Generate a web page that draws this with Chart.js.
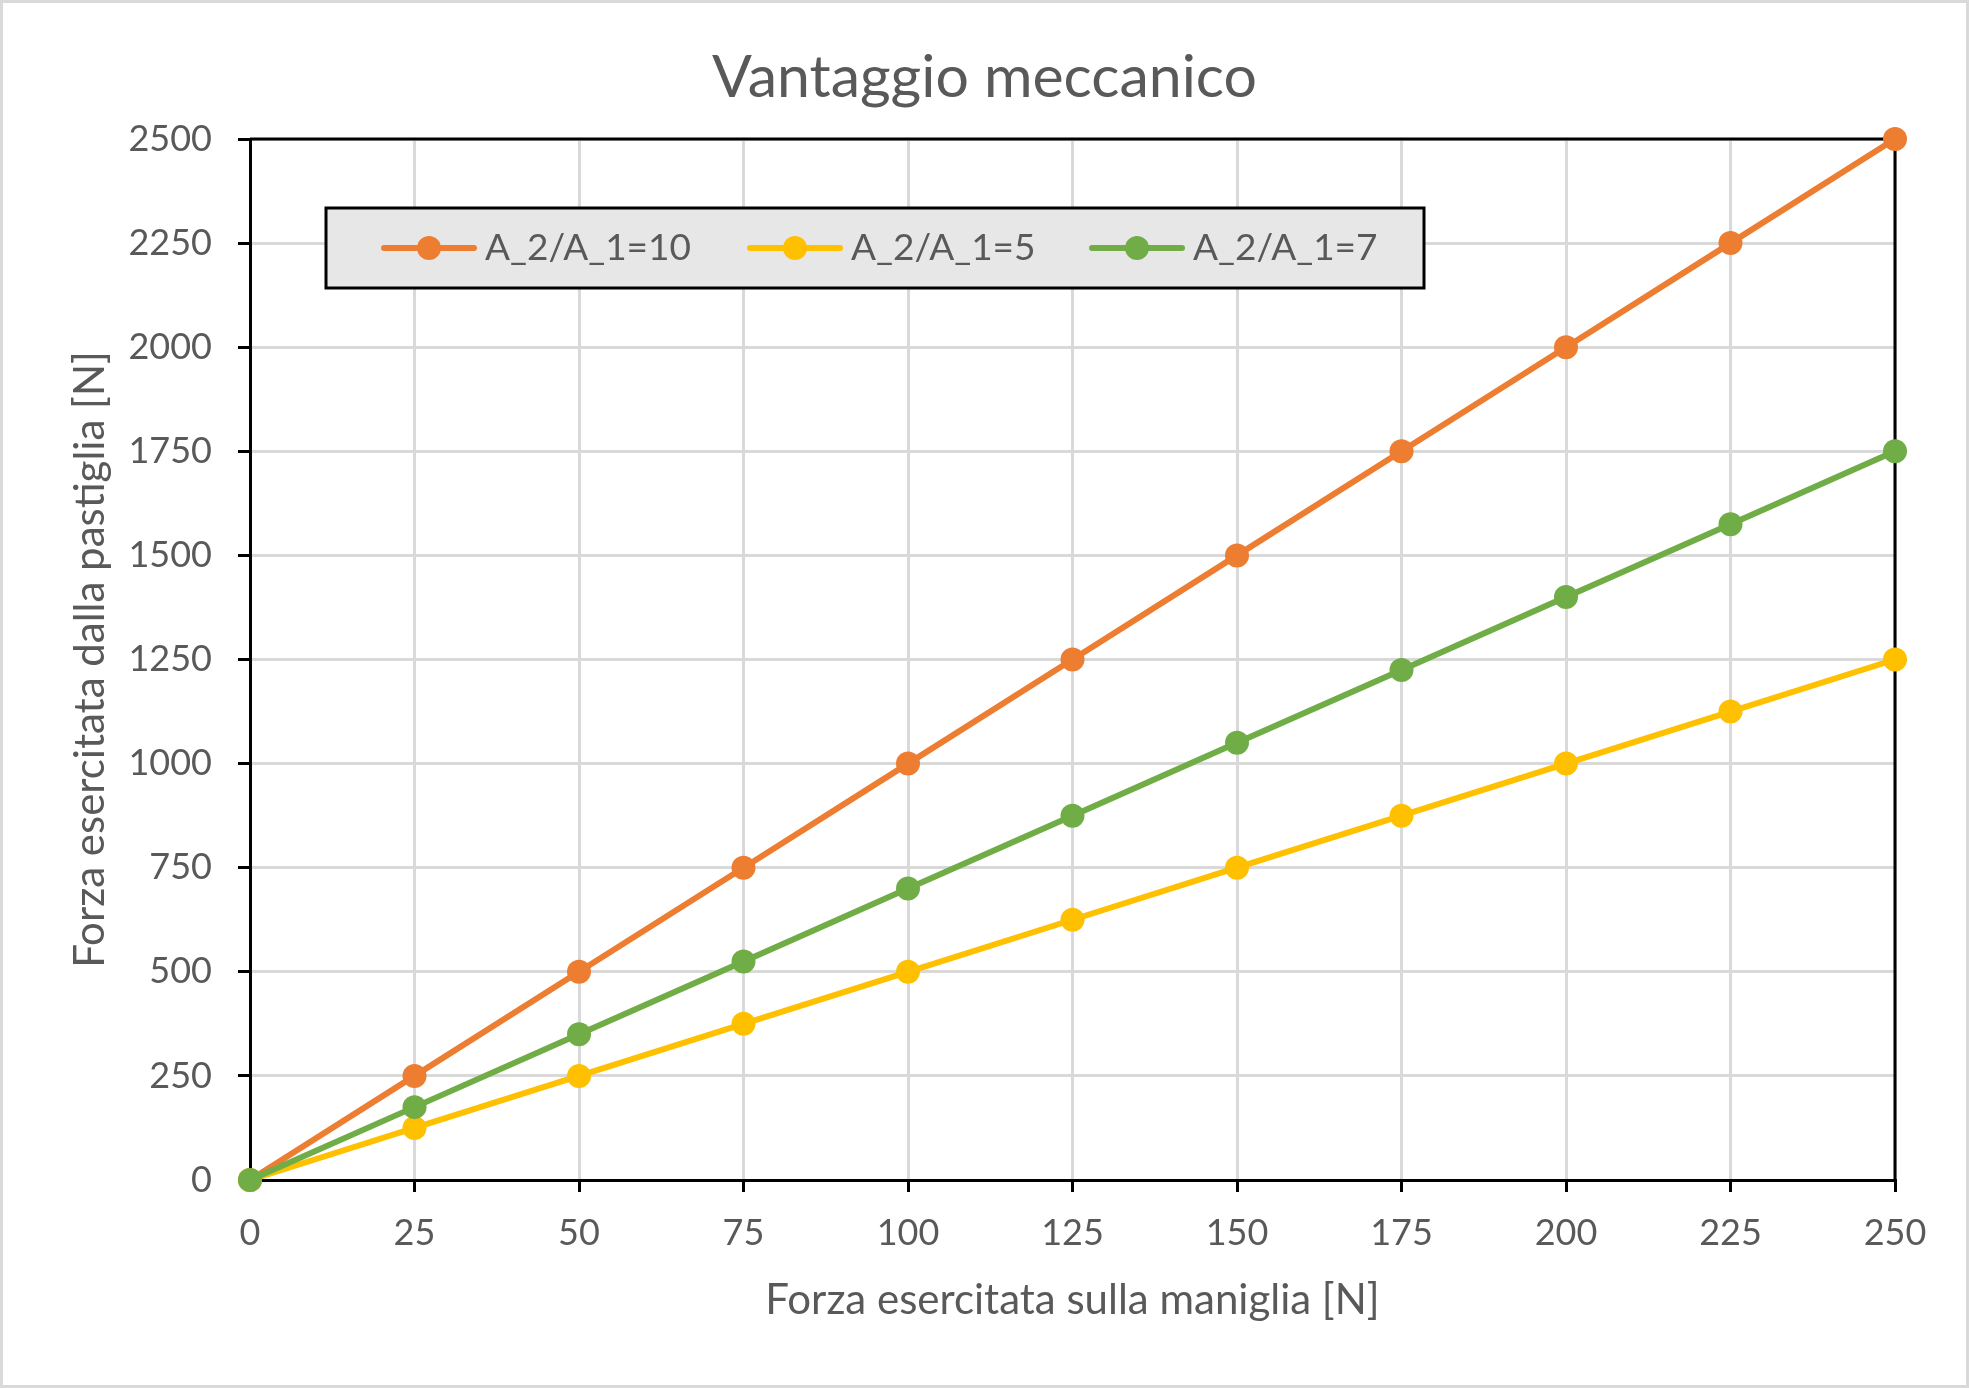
<!DOCTYPE html>
<html>
<head>
<meta charset="utf-8">
<script src="https://cdn.jsdelivr.net/npm/chart.js@4.4.1/dist/chart.umd.min.js"></script>
<style>
    html, body { margin: 0; padding: 0; background: #fff; }
    #wrap { position: relative; width: 1969px; height: 1388px; }
    #frame { position: absolute; left: 0; top: 0; width: 1969px; height: 1388px; box-sizing: border-box; border: 3px solid #d9d9d9; pointer-events: none; }
</style>
</head>
<body>
<div id="wrap">
    <canvas id="chart" width="1969" height="1388"></canvas>
    <div id="frame"></div>
</div>
<script>
// Forza sulla maniglia [N]
const forzaManiglia = [0, 25, 50, 75, 100, 125, 150, 175, 200, 225, 250];
// Forza della pastiglia [N] per ciascun rapporto A_2/A_1
const rapporto10 = [0, 250, 500, 750, 1000, 1250, 1500, 1750, 2000, 2250, 2500];
const rapporto5 = [0, 125, 250, 375, 500, 625, 750, 875, 1000, 1125, 1250];
const rapporto7 = [0, 175, 350, 525, 700, 875, 1050, 1225, 1400, 1575, 1750];
const seriesLabels = ['A_2/A_1=10', 'A_2/A_1=5', 'A_2/A_1=7'];
const seriesColors = ['#ED7D31', '#FFC000', '#70AD47'];
const chartTitle = 'Vantaggio meccanico';

const FONT = 'Lato, "Open Sans", sans-serif';
const TEXT = '#595959';

const toPoints = (ys) => forzaManiglia.map((x, i) => ({ x, y: ys[i] }));

// title centred on the whole canvas (chart.js would centre it on the padded box)
const canvasTitle = {
    id: 'canvasTitle',
    afterDraw(chart) {
        const { ctx, width } = chart;
        ctx.save();
        ctx.fillStyle = TEXT;
        ctx.font = '59px ' + FONT;
        ctx.textAlign = 'center';
        ctx.textBaseline = 'middle';
        ctx.fillText(chartTitle, width / 2, 78);
        ctx.restore();
    }
};

// box around the plot area (top and right sides), under the markers
const plotBox = {
    id: 'plotBox',
    beforeDatasetsDraw(chart) {
        const { ctx, chartArea: a } = chart;
        ctx.save();
        ctx.strokeStyle = '#000';
        ctx.lineWidth = 3;
        ctx.beginPath();
        ctx.moveTo(a.left, a.top);
        ctx.lineTo(a.right, a.top);
        ctx.lineTo(a.right, a.bottom);
        ctx.stroke();
        ctx.restore();
    }
};

// legend drawn inside the plot, grey box with black border
const boxLegend = {
    id: 'boxLegend',
    afterDraw(chart) {
        const { ctx } = chart;
        const box = { x: 326, y: 208, w: 1098, h: 80 };
        const entries = [384, 750, 1092];
        const cy = box.y + box.h / 2;
        ctx.save();
        ctx.fillStyle = '#e7e7e7';
        ctx.fillRect(box.x, box.y, box.w, box.h);
        ctx.strokeStyle = '#000';
        ctx.lineWidth = 3;
        ctx.strokeRect(box.x, box.y, box.w, box.h);
        chart.data.datasets.forEach((ds, i) => {
            const x0 = entries[i];
            ctx.strokeStyle = ds.borderColor;
            ctx.lineWidth = 6;
            ctx.lineCap = 'round';
            ctx.beginPath();
            ctx.moveTo(x0, cy);
            ctx.lineTo(x0 + 90, cy);
            ctx.stroke();
            ctx.fillStyle = ds.borderColor;
            ctx.beginPath();
            ctx.arc(x0 + 45, cy, 12, 0, Math.PI * 2);
            ctx.fill();
            ctx.fillStyle = TEXT;
            ctx.font = '37px ' + FONT;
            ctx.textAlign = 'left';
            ctx.textBaseline = 'middle';
            ctx.fillText(ds.label, x0 + 101, cy);
        });
        ctx.restore();
    }
};

const datasets = [rapporto10, rapporto5, rapporto7].map((ys, i) => ({
    label: seriesLabels[i],
    data: toPoints(ys),
    borderColor: seriesColors[i],
    backgroundColor: seriesColors[i],
    pointBackgroundColor: seriesColors[i],
    pointBorderWidth: 0,
    pointRadius: 12,
    borderWidth: 6,
    clip: false,
    order: 3 - i
}));

new Chart(document.getElementById('chart'), {
    type: 'line',
    data: { datasets },
    plugins: [plotBox, boxLegend, canvasTitle],
    options: {
        responsive: false,
        animation: false,
        layout: { padding: { left: 0, right: 74, top: 139, bottom: 0 } },
        plugins: {
            legend: { display: false },
            tooltip: { enabled: false },
            title: { display: false }
        },
        scales: {
            x: {
                type: 'linear',
                min: 0,
                max: 250,
                afterFit(scale) { scale.height = 208; },
                ticks: { stepSize: 25, color: TEXT, padding: 20, font: { family: FONT, size: 36 }, callback: v => String(v) },
                grid: { color: '#d9d9d9', lineWidth: 3, tickColor: '#000', tickWidth: 3, tickLength: 12 },
                border: { color: '#000', width: 3 },
                title: {
                    display: true,
                    text: 'Forza esercitata sulla maniglia [N]',
                    color: TEXT,
                    font: { family: FONT, size: 42 },
                    padding: { top: 0, bottom: 62 }
                }
            },
            y: {
                min: 0,
                max: 2500,
                afterFit(scale) { scale.width = 250; },
                ticks: { stepSize: 250, color: TEXT, padding: 26, font: { family: FONT, size: 36 }, callback: v => String(v) },
                grid: { color: '#d9d9d9', lineWidth: 3, tickColor: '#000', tickWidth: 3, tickLength: 12 },
                border: { color: '#000', width: 3 },
                title: {
                    display: true,
                    text: 'Forza esercitata dalla pastiglia [N]',
                    color: TEXT,
                    font: { family: FONT, size: 42 },
                    padding: { top: 65, bottom: 0 }
                }
            }
        }
    }
});
</script>
</body>
</html>
